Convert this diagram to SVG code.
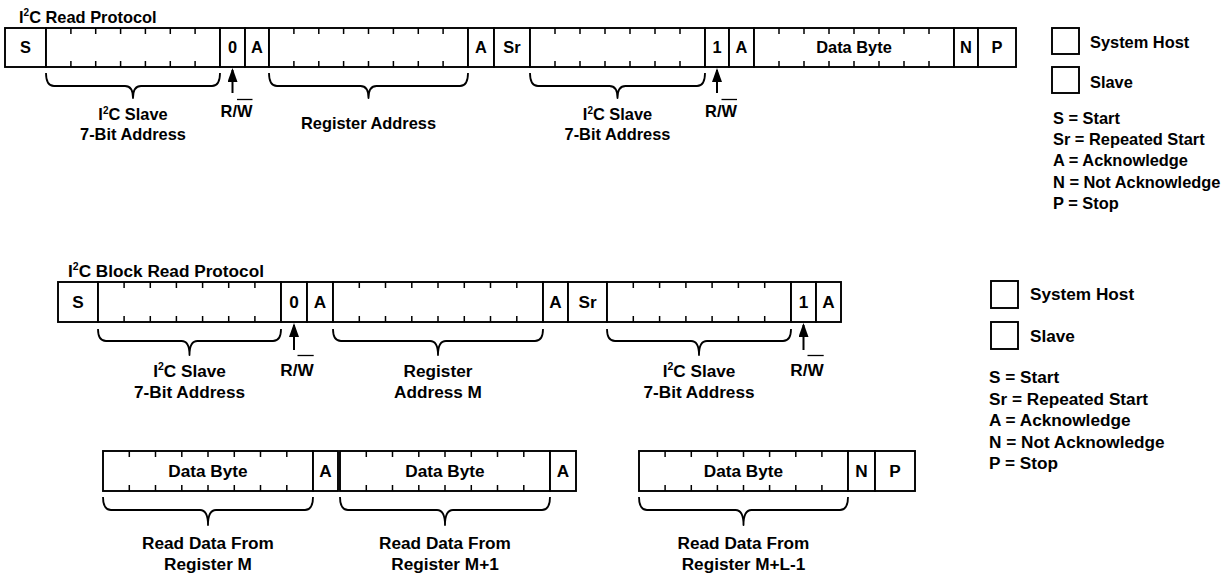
<svg xmlns="http://www.w3.org/2000/svg" width="1225" height="576" viewBox="0 0 1225 576">
<style>
rect{fill:#fff;stroke:#000;stroke-width:1.9}
.tk{fill:none;stroke:#000;stroke-width:1.5}
.br{fill:none;stroke:#000;stroke-width:1.8;stroke-linejoin:round}
.ar{stroke:#000;stroke-width:2;marker-end:url(#ah)}
.ol{stroke:#000;stroke-width:1.3}
text{font-family:"Liberation Sans",Arial,Helvetica,sans-serif;font-weight:bold;fill:#000}
.a{font-size:16.4px}
.b{font-size:17.2px}
.m{text-anchor:middle}
</style>
<defs>
<marker id="ah" markerUnits="userSpaceOnUse" viewBox="0 0 14 10" refX="12" refY="5" markerWidth="14" markerHeight="10" orient="auto">
<path d="M0,0L14,5L0,10z" fill="#000"/>
</marker>
</defs>

<!-- ===== I2C Read Protocol ===== -->
<text id="title1" class="a" x="19" y="22.7">I<tspan font-size="10" dy="-6.5">2</tspan><tspan dy="6.5">C Read Protocol</tspan></text>

<g id="r1-s"><rect x="5" y="28" width="41" height="39"/><text class="a m" x="25.5" y="53.4">S</text></g>
<g id="r1-addr1"><rect x="46" y="28" width="174" height="39"/><path class="tk" d="M70.9,28v6M95.7,28v6M120.6,28v6M145.4,28v6M170.3,28v6M195.1,28v6M70.9,67v-6M95.7,67v-6M120.6,67v-6M145.4,67v-6M170.3,67v-6M195.1,67v-6"/></g>
<g id="r1-rw0"><rect x="220" y="28" width="25" height="39"/><text class="a m" x="232.5" y="53.4">0</text></g>
<g id="r1-a1"><rect x="245" y="28" width="24" height="39"/><text class="a m" x="257" y="53.4">A</text></g>
<g id="r1-reg"><rect x="269" y="28" width="199" height="39"/><path class="tk" d="M293.9,28v6M318.8,28v6M343.6,28v6M368.5,28v6M393.4,28v6M418.3,28v6M443.1,28v6M293.9,67v-6M318.8,67v-6M343.6,67v-6M368.5,67v-6M393.4,67v-6M418.3,67v-6M443.1,67v-6"/></g>
<g id="r1-a2"><rect x="468" y="28" width="26" height="39"/><text class="a m" x="481" y="53.4">A</text></g>
<g id="r1-sr"><rect x="494" y="28" width="36" height="39"/><text class="a m" x="512" y="53.4">Sr</text></g>
<g id="r1-addr2"><rect x="530" y="28" width="175" height="39"/><path class="tk" d="M555,28v6M580,28v6M605,28v6M630,28v6M655,28v6M680,28v6M555,67v-6M580,67v-6M605,67v-6M630,67v-6M655,67v-6M680,67v-6"/></g>
<g id="r1-rw1"><rect x="705" y="28" width="24" height="39"/><text class="a m" x="717" y="53.4">1</text></g>
<g id="r1-a3"><rect x="729" y="28" width="25" height="39"/><text class="a m" x="741.5" y="53.4">A</text></g>
<g id="r1-data"><rect x="754" y="28" width="200" height="39"/><path class="tk" d="M779,28v6M804,28v6M829,28v6M854,28v6M879,28v6M904,28v6M929,28v6M779,67v-6M804,67v-6M829,67v-6M854,67v-6M879,67v-6M904,67v-6M929,67v-6"/><text class="a m" x="854" y="53.4">Data Byte</text></g>
<g id="r1-n"><rect x="954" y="28" width="24" height="39"/><text class="a m" x="966" y="53.4">N</text></g>
<g id="r1-p"><rect x="978" y="28" width="38" height="39"/><text class="a m" x="997" y="53.4">P</text></g>

<g id="r1-labels">
<text class="a m" x="133" y="120">I<tspan font-size="10" dy="-6.5">2</tspan><tspan dy="6.5">C Slave</tspan></text>
<text class="a m" x="133" y="139.5">7-Bit Address</text>
<text class="a" x="220.6" y="117">R/W</text>
<line class="ol" x1="237" y1="99.5" x2="252.5" y2="99.5"/>
<text class="a m" x="368.5" y="129">Register Address</text>
<text class="a m" x="617.5" y="120">I<tspan font-size="10" dy="-6.5">2</tspan><tspan dy="6.5">C Slave</tspan></text>
<text class="a m" x="617.5" y="139.5">7-Bit Address</text>
<text class="a" x="705.1" y="117">R/W</text>
<line class="ol" x1="721.5" y1="99.5" x2="737" y2="99.5"/>
</g>

<g id="legend1">
<rect x="1052" y="28" width="27" height="26"/>
<text class="a" x="1090" y="47.6">System Host</text>
<rect x="1052" y="67" width="27" height="26"/>
<text class="a" x="1090" y="87.5">Slave</text>
<text class="a" x="1053" y="124">S = Start</text>
<text class="a" x="1053" y="145">Sr = Repeated Start</text>
<text class="a" x="1053" y="166">A = Acknowledge</text>
<text class="a" x="1053" y="187.5">N = Not Acknowledge</text>
<text class="a" x="1053" y="208.5">P = Stop</text>
</g>

<!-- ===== I2C Block Read Protocol ===== -->
<text id="title2" class="b" x="68" y="276.7">I<tspan font-size="10.5" dy="-6.8">2</tspan><tspan dy="6.8">C Block Read Protocol</tspan></text>

<g id="r2-s"><rect x="58" y="282" width="40" height="40"/><text class="b m" x="78" y="308.2">S</text></g>
<g id="r2-addr1"><rect x="98" y="282" width="183" height="40"/><path class="tk" d="M124.1,282v6M150.3,282v6M176.4,282v6M202.6,282v6M228.7,282v6M254.9,282v6M124.1,322v-6M150.3,322v-6M176.4,322v-6M202.6,322v-6M228.7,322v-6M254.9,322v-6"/></g>
<g id="r2-rw0"><rect x="281" y="282" width="26" height="40"/><text class="b m" x="294" y="308.2">0</text></g>
<g id="r2-a1"><rect x="307" y="282" width="26" height="40"/><text class="b m" x="320" y="308.2">A</text></g>
<g id="r2-reg"><rect x="333" y="282" width="210" height="40"/><path class="tk" d="M359.3,282v6M385.5,282v6M411.8,282v6M438,282v6M464.3,282v6M490.5,282v6M516.8,282v6M359.3,322v-6M385.5,322v-6M411.8,322v-6M438,322v-6M464.3,322v-6M490.5,322v-6M516.8,322v-6"/></g>
<g id="r2-a2"><rect x="543" y="282" width="25" height="40"/><text class="b m" x="555.5" y="308.2">A</text></g>
<g id="r2-sr"><rect x="568" y="282" width="39" height="40"/><text class="b m" x="587.5" y="308.2">Sr</text></g>
<g id="r2-addr2"><rect x="607" y="282" width="184" height="40"/><path class="tk" d="M633.3,282v6M659.6,282v6M685.9,282v6M712.1,282v6M738.4,282v6M764.7,282v6M633.3,322v-6M659.6,322v-6M685.9,322v-6M712.1,322v-6M738.4,322v-6M764.7,322v-6"/></g>
<g id="r2-rw1"><rect x="791" y="282" width="25" height="40"/><text class="b m" x="803.5" y="308.2">1</text></g>
<g id="r2-a3"><rect x="816" y="282" width="25" height="40"/><text class="b m" x="828.5" y="308.2">A</text></g>

<g id="r2-labels">
<text class="b m" x="189.5" y="376.5">I<tspan font-size="10.5" dy="-6.8">2</tspan><tspan dy="6.8">C Slave</tspan></text>
<text class="b m" x="189.5" y="398">7-Bit Address</text>
<text class="b" x="280.3" y="375.5">R/W</text>
<line class="ol" x1="297.5" y1="355.5" x2="313.7" y2="355.5"/>
<text class="b m" x="438" y="376.5">Register</text>
<text class="b m" x="438" y="398">Address M</text>
<text class="b m" x="699" y="376.5">I<tspan font-size="10.5" dy="-6.8">2</tspan><tspan dy="6.8">C Slave</tspan></text>
<text class="b m" x="699" y="398">7-Bit Address</text>
<text class="b" x="790.3" y="375.5">R/W</text>
<line class="ol" x1="807.5" y1="355.5" x2="823.7" y2="355.5"/>
</g>

<g id="r3-data1"><rect x="103" y="451" width="210" height="40"/><path class="tk" d="M129.3,451v6M155.5,451v6M181.8,451v6M208,451v6M234.3,451v6M260.5,451v6M286.8,451v6M129.3,491v-6M155.5,491v-6M181.8,491v-6M208,491v-6M234.3,491v-6M260.5,491v-6M286.8,491v-6"/><text class="b m" x="208" y="477.2">Data Byte</text></g>
<g id="r3-a1"><rect x="313" y="451" width="25" height="40"/><text class="b m" x="325.5" y="477.2">A</text></g>
<g id="r3-data2"><rect x="340" y="451" width="210" height="40"/><path class="tk" d="M366.3,451v6M392.5,451v6M418.8,451v6M445,451v6M471.3,451v6M497.5,451v6M523.8,451v6M366.3,491v-6M392.5,491v-6M418.8,491v-6M445,491v-6M471.3,491v-6M497.5,491v-6M523.8,491v-6"/><text class="b m" x="445" y="477.2">Data Byte</text></g>
<g id="r3-a2"><rect x="550" y="451" width="26" height="40"/><text class="b m" x="563" y="477.2">A</text></g>
<g id="r3-data3"><rect x="639" y="451" width="209" height="40"/><path class="tk" d="M665.1,451v6M691.3,451v6M717.4,451v6M743.5,451v6M769.6,451v6M795.8,451v6M821.9,451v6M665.1,491v-6M691.3,491v-6M717.4,491v-6M743.5,491v-6M769.6,491v-6M795.8,491v-6M821.9,491v-6"/><text class="b m" x="743.5" y="477.2">Data Byte</text></g>
<g id="r3-n"><rect x="848" y="451" width="27" height="40"/><text class="b m" x="861.5" y="477.2">N</text></g>
<g id="r3-p"><rect x="875" y="451" width="40" height="40"/><text class="b m" x="895" y="477.2">P</text></g>

<g id="r3-labels">
<text class="b m" x="208" y="548.5">Read Data From</text>
<text class="b m" x="208" y="569.5">Register M</text>
<text class="b m" x="445" y="548.5">Read Data From</text>
<text class="b m" x="445" y="569.5">Register M+1</text>
<text class="b m" x="743.5" y="548.5">Read Data From</text>
<text class="b m" x="743.5" y="569.5">Register M+L-1</text>
</g>

<g id="legend2">
<rect x="991" y="281" width="27" height="27"/>
<text class="b" x="1030" y="300.2">System Host</text>
<rect x="991" y="322" width="27" height="27"/>
<text class="b" x="1030" y="342">Slave</text>
<text class="b" x="989" y="383">S = Start</text>
<text class="b" x="989" y="404.5">Sr = Repeated Start</text>
<text class="b" x="989" y="426">A = Acknowledge</text>
<text class="b" x="989" y="447.5">N = Not Acknowledge</text>
<text class="b" x="989" y="469">P = Stop</text>
</g>

<g id="connectors">
<path class="br" d="M46,73Q46,86 54,86H125Q133,86 133,98Q133,86 141,86H212Q220,86 220,73"/>
<path class="br" d="M269,73Q269,86 277,86H360.5Q368.5,86 368.5,98Q368.5,86 376.5,86H460Q468,86 468,73"/>
<path class="br" d="M530,73Q530,86 538,86H609.5Q617.5,86 617.5,98Q617.5,86 625.5,86H697Q705,86 705,73"/>
<line class="ar" x1="232.5" y1="93" x2="232.5" y2="70"/>
<line class="ar" x1="717" y1="93" x2="717" y2="70"/>

<path class="br" d="M98,329Q98,341 106,341H181.5Q189.5,341 189.5,355Q189.5,341 197.5,341H273Q281,341 281,329"/>
<path class="br" d="M333,329Q333,341 341,341H430Q438,341 438,355Q438,341 446,341H535Q543,341 543,329"/>
<path class="br" d="M607,329Q607,341 615,341H691Q699,341 699,355Q699,341 707,341H783Q791,341 791,329"/>
<line class="ar" x1="294" y1="350" x2="294" y2="325"/>
<line class="ar" x1="803.5" y1="350" x2="803.5" y2="325"/>

<path class="br" d="M103,497Q103,510 111,510H200Q208,510 208,525Q208,510 216,510H305Q313,510 313,497"/>
<path class="br" d="M340,497Q340,510 348,510H437Q445,510 445,525Q445,510 453,510H542Q550,510 550,497"/>
<path class="br" d="M639,497Q639,510 647,510H735.5Q743.5,510 743.5,525Q743.5,510 751.5,510H840Q848,510 848,497"/>
</g>
</svg>
